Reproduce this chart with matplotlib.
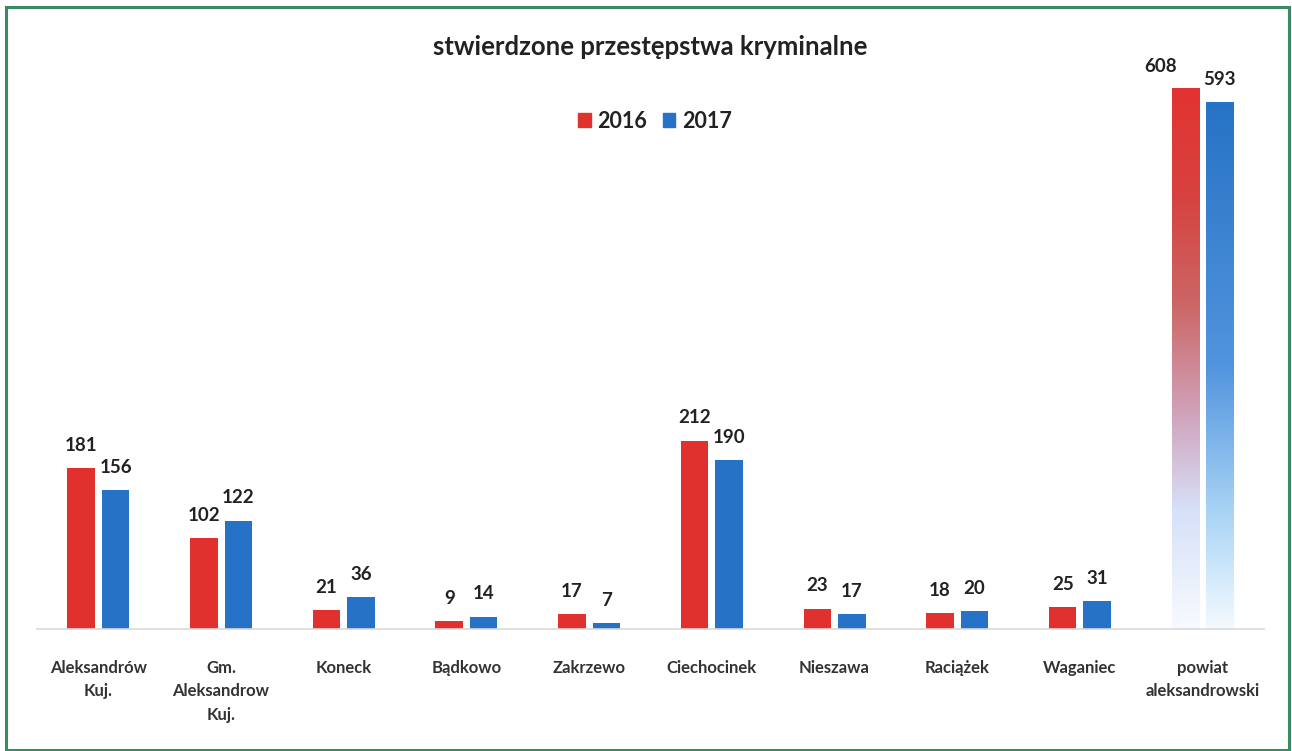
import matplotlib
matplotlib.use("Agg")
import matplotlib.pyplot as plt
import numpy as np
from matplotlib.colors import LinearSegmentedColormap
from matplotlib.patches import Rectangle

categories = ["Aleksandrów\nKuj.", "Gm.\nAleksandrow\nKuj.", "Koneck", "Bądkowo", "Zakrzewo",
              "Ciechocinek", "Nieszawa", "Raciążek", "Waganiec", "powiat\naleksandrowski"]
v2016 = [181, 102, 21, 9, 17, 212, 23, 18, 25, 608]
v2017 = [156, 122, 36, 14, 7, 190, 17, 20, 31, 593]
series_names = ["2016", "2017"]
title = "stwierdzone przestępstwa kryminalne"

RED = "#E0312F"
BLUE = "#2672C6"
FONT = ["Lato", "DejaVu Sans"]
plt.rcParams["font.family"] = FONT

fig = plt.figure(figsize=(12.92, 7.51), dpi=100)
ax = fig.add_axes([37/1292, (751-629)/751, 1227/1292, (629-25)/751])

x = np.arange(len(categories))
w = 0.224
gap = 0.057
xr = x - w/2 - gap/2
xb = x + w/2 + gap/2

n = len(categories)
ax.bar(xr[:-1], v2016[:-1], w, color=RED, zorder=2)
ax.bar(xb[:-1], v2017[:-1], w, color=BLUE, zorder=2)

# gradient bars for last category
cm_r = LinearSegmentedColormap.from_list("r", [
    (0.0, (0.97, 0.98, 1.0)), (0.22, (0.84, 0.88, 0.97)), (0.38, (0.82, 0.66, 0.76)),
    (0.6, (0.80, 0.40, 0.40)), (0.8, (0.84, 0.26, 0.25)), (1.0, (0.89, 0.20, 0.19))])
cm_b = LinearSegmentedColormap.from_list("b", [
    (0.0, (0.96, 0.98, 1.0)), (0.22, (0.66, 0.83, 0.96)), (0.5, (0.32, 0.58, 0.87)),
    (1.0, (0.15, 0.45, 0.77))])
grad = np.linspace(0, 1, 256).reshape(-1, 1)
for xc, val, cmap in [(xr[-1], v2016[-1], cm_r), (xb[-1], v2017[-1], cm_b)]:
    ax.imshow(grad, cmap=cmap, origin="lower", aspect="auto",
              extent=(xc - w/2, xc + w/2, 0, val), zorder=2)
ax.set_xlim(-0.5, len(categories) - 0.5)
ax.set_ylim(0, 680)

# value labels
lab_kw = dict(ha="center", va="bottom", fontsize=13.5, fontweight="bold", color="#222222")
for i in range(n):
    dx = -0.2 if i == n - 1 else 0
    ax.text(xr[i] + dx, v2016[i] + 16, str(v2016[i]), **lab_kw)
    ax.text(xb[i], v2017[i] + 16, str(v2017[i]), **lab_kw)

for s in ["top", "right", "left"]:
    ax.spines[s].set_visible(False)
ax.spines["bottom"].set_color("#d9d9d9")
ax.spines["bottom"].set_linewidth(1.2)
ax.set_yticks([])
ax.set_xticks(x)
ax.set_xticklabels(categories, fontsize=12, fontweight="bold", color="#333333", linespacing=1.6, va="top")
ax.tick_params(axis="x", length=0, pad=22)
ax.set_facecolor("none")

fig.text(650/1292, 1 - 47/751, title, ha="center", va="center", fontsize=18.5, fontweight="bold", color="#222222")

# legend
handles = [Rectangle((0, 0), 1, 1, color=RED), Rectangle((0, 0), 1, 1, color=BLUE)]
leg = fig.legend(handles, series_names, loc="center", bbox_to_anchor=(655/1292, 1 - 121/751), ncol=2,
                 frameon=False, prop=dict(family=FONT, weight="bold", size=15.5),
                 handlelength=0.6, handleheight=0.6, handletextpad=0.3, columnspacing=0.7)
for t in leg.get_texts():
    t.set_color("#222222")

# border
fig.patches.append(Rectangle((6/1292, 1/751), 1283/1292, 1 - 8/751, transform=fig.transFigure,
                             fill=False, edgecolor="#3A8A64", linewidth=2.2))

fig.savefig("out.png", dpi=100, facecolor="white")
